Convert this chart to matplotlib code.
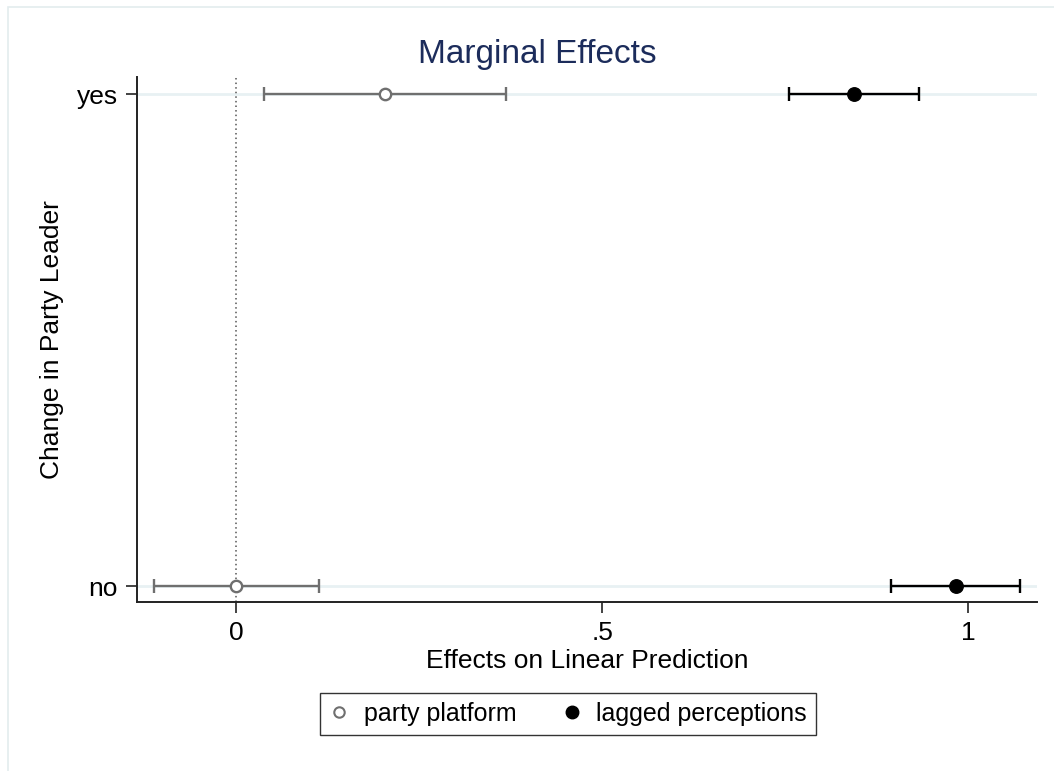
import matplotlib
matplotlib.use("Agg")
import matplotlib.pyplot as plt
from matplotlib.lines import Line2D
from matplotlib.patches import Rectangle

plt.rcParams['font.family'] = ['Liberation Sans', 'DejaVu Sans']

categories = ["no", "yes"]
series_names = ["party platform", "lagged perceptions"]
platform_est = [0.0, 0.203]
platform_lo = [-0.112, 0.038]
platform_hi = [0.113, 0.368]
lagged_est = [0.983, 0.844]
lagged_lo = [0.895, 0.755]
lagged_hi = [1.071, 0.933]
xtick_vals = [0, 0.5, 1]
xtick_labels = ["0", ".5", "1"]

fig = plt.figure(figsize=(10.54, 7.71), dpi=100)
fig.patches.append(Rectangle((8/1054, -0.1), 1.2, 1 - 7/771 + 0.1, transform=fig.transFigure,
                             fill=False, edgecolor='#e3ecee', linewidth=1.2, zorder=0))
ax = fig.add_axes([137/1054, 1 - 602/771, 900/1054, 525/771])

ypos = list(range(len(categories)))
for y in ypos:
    ax.axhline(y, color='#e8f1f3', linewidth=2, zorder=0)
ax.axvline(0, color='#555555', linestyle=(0, (1, 2)), linewidth=1.1, zorder=1)

grey = '#6f6f6f'
ax.errorbar(platform_est, ypos,
            xerr=[[e - l for e, l in zip(platform_est, platform_lo)],
                  [h - e for e, h in zip(platform_est, platform_hi)]],
            fmt='o', color=grey, ecolor=grey, markerfacecolor='white', markeredgecolor=grey,
            markersize=8.2, markeredgewidth=1.7, elinewidth=1.7, capsize=4.7, capthick=1.7, zorder=3)
ax.errorbar(lagged_est, ypos,
            xerr=[[e - l for e, l in zip(lagged_est, lagged_lo)],
                  [h - e for e, h in zip(lagged_est, lagged_hi)]],
            fmt='o', color='black', ecolor='black', markersize=9.7,
            elinewidth=1.7, capsize=4.7, capthick=1.7, zorder=3)

ax.set_xlim(-0.1357, 1.0939)
ax.set_ylim(-0.0325, 1.0346)
ax.set_xticks(xtick_vals)
ax.set_xticklabels(xtick_labels)
ax.set_yticks(ypos)
ax.set_yticklabels(categories)
ax.tick_params(axis='both', labelsize=19, length=8, width=1.2, color='#222222', pad=6)
for s in ['top', 'right']:
    ax.spines[s].set_visible(False)
for s in ['left', 'bottom']:
    ax.spines[s].set_linewidth(1.4)
    ax.spines[s].set_color('#222222')

fig.text(0.5095, 1 - 55/771, "Marginal Effects", ha='center', va='center', fontsize=24, color='#1c2c5b')
fig.text(587/1054, 1 - 661/771, "Effects on Linear Prediction", ha='center', va='center', fontsize=19)
fig.text(52/1054, 1 - 340/771, "Change in Party Leader", ha='center', va='center', fontsize=19, rotation=90)

handles = [
    Line2D([], [], marker='o', linestyle='none', markerfacecolor='white', markeredgecolor=grey,
           markersize=7.5, markeredgewidth=1.5),
    Line2D([], [], marker='o', linestyle='none', color='black', markersize=9),
]
leg = fig.legend(handles, series_names, loc='center', bbox_to_anchor=(568/1054, 1 - 714/771),
                 ncol=2, fontsize=18, frameon=True, fancybox=False, edgecolor='black',
                 handlelength=0.8, handletextpad=0.6, columnspacing=1.8, borderpad=0.35)
leg.get_frame().set_linewidth(1.0)

fig.savefig("out.png", dpi=100, facecolor='white')
